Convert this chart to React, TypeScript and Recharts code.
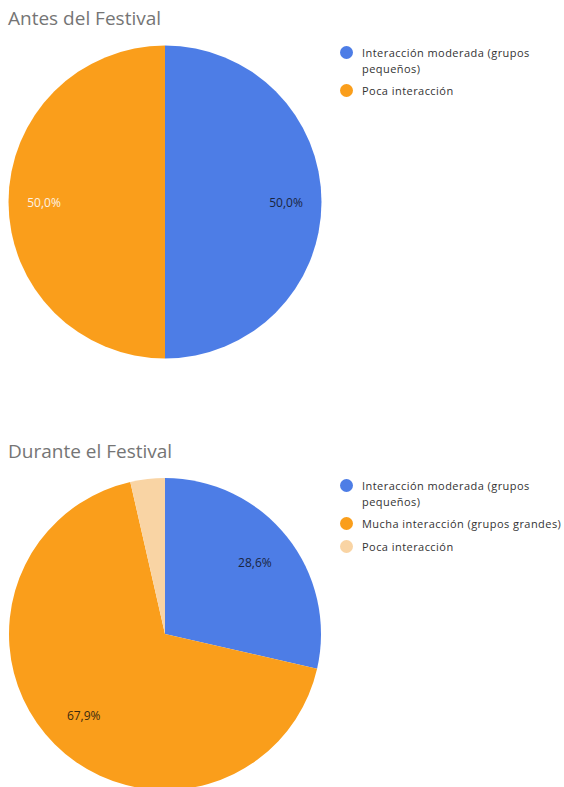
import React from 'react';
import { PieChart, Pie, Cell, Legend } from 'recharts';

// Antes del Festival
const antesCategorias = ['Interacción moderada (grupos pequeños)', 'Poca interacción'];
const antesValores = [50, 50];
const antesColores = ['#4d7de6', '#fa9e1b'];
const antesColorEtiqueta = ['#1a2540', '#fdf3e4'];

// Durante el Festival
const duranteCategorias = [
  'Interacción moderada (grupos pequeños)',
  'Mucha interacción (grupos grandes)',
  'Poca interacción',
];
const duranteValores = [8, 19, 1];
const duranteColores = ['#4d7de6', '#fa9e1b', '#f9d4a4'];
const duranteColorEtiqueta = ['#1a2540', '#3a2a10', '#3a2a10'];

const FONT = '"Open Sans", "Noto Sans", sans-serif';
const NO_MARGIN = { top: 0, right: 0, bottom: 0, left: 0 };

const RADIAN = Math.PI / 180;

const makeLabel = (labelRadius: number, colors: string[]) => (props: any) => {
  const { cx, cy, midAngle, percent, index } = props;
  if (percent < 0.05) return null;
  const x = cx + labelRadius * Math.cos(-midAngle * RADIAN);
  const y = cy + labelRadius * Math.sin(-midAngle * RADIAN);
  return (
    <text
      x={x}
      y={y}
      fill={colors[index]}
      textAnchor="middle"
      dominantBaseline="central"
      style={{ fontFamily: FONT, fontSize: 12 }}
    >
      {(percent * 100).toFixed(1).replace('.', ',') + '%'}
    </text>
  );
};

const renderLegend = (props: any) => {
  const { payload } = props;
  return (
    <div style={{ fontFamily: FONT, fontSize: 11, color: '#333', letterSpacing: 0.45 }}>
      {payload.map((entry: any, i: number) => (
        <div key={i} style={{ display: 'flex', alignItems: 'flex-start', marginBottom: 7 }}>
          <span
            style={{
              width: 13,
              height: 13,
              borderRadius: '50%',
              background: entry.color,
              flex: '0 0 13px',
              marginTop: 1,
              marginRight: 9,
            }}
          />
          <span style={{ width: 202, lineHeight: '15.5px' }}>{entry.value}</span>
        </div>
      ))}
    </div>
  );
};

const Title: React.FC<{ text: string; top: number }> = ({ text, top }) => (
  <div
    style={{
      position: 'absolute',
      left: 8,
      top,
      fontFamily: FONT,
      fontSize: 19,
      color: '#757575',
      whiteSpace: 'nowrap',
    }}
  >
    {text}
  </div>
);

const App: React.FC = () => {
  const antesData = antesCategorias.map((name, i) => ({ name, value: antesValores[i] }));
  const duranteData = duranteCategorias.map((name, i) => ({ name, value: duranteValores[i] }));

  return (
    <div
      style={{
        position: 'absolute',
        left: 0,
        top: 0,
        width: 564,
        height: 787,
        background: '#fff',
        overflow: 'hidden',
      }}
    >
      <div style={{ position: 'absolute', left: 0, top: 0 }}>
        <PieChart width={564} height={420} margin={NO_MARGIN}>
          <Pie
            data={antesData}
            dataKey="value"
            nameKey="name"
            cx={165}
            cy={202}
            outerRadius={156.5}
            startAngle={90}
            endAngle={-270}
            stroke="none"
            label={makeLabel(121, antesColorEtiqueta)}
            labelLine={false}
            isAnimationActive={false}
          >
            {antesData.map((_, i) => (
              <Cell key={i} fill={antesColores[i]} />
            ))}
          </Pie>
          <Legend
            layout="vertical"
            verticalAlign="top"
            align="right"
            content={renderLegend}
            wrapperStyle={{ left: 340, top: 45, width: 224 }}
          />
        </PieChart>
      </div>
      <Title text="Antes del Festival" top={5} />

      <div style={{ position: 'absolute', left: 0, top: 427 }}>
        <PieChart width={564} height={360} margin={NO_MARGIN}>
          <Pie
            data={duranteData}
            dataKey="value"
            nameKey="name"
            cx={165}
            cy={207}
            outerRadius={156}
            startAngle={90}
            endAngle={-270}
            stroke="none"
            label={makeLabel(115, duranteColorEtiqueta)}
            labelLine={false}
            isAnimationActive={false}
          >
            {duranteData.map((_, i) => (
              <Cell key={i} fill={duranteColores[i]} />
            ))}
          </Pie>
          <Legend
            layout="vertical"
            verticalAlign="top"
            align="right"
            content={renderLegend}
            wrapperStyle={{ left: 340, top: 51, width: 224 }}
          />
        </PieChart>
      </div>
      <Title text="Durante el Festival" top={438} />
    </div>
  );
};

export default App;
